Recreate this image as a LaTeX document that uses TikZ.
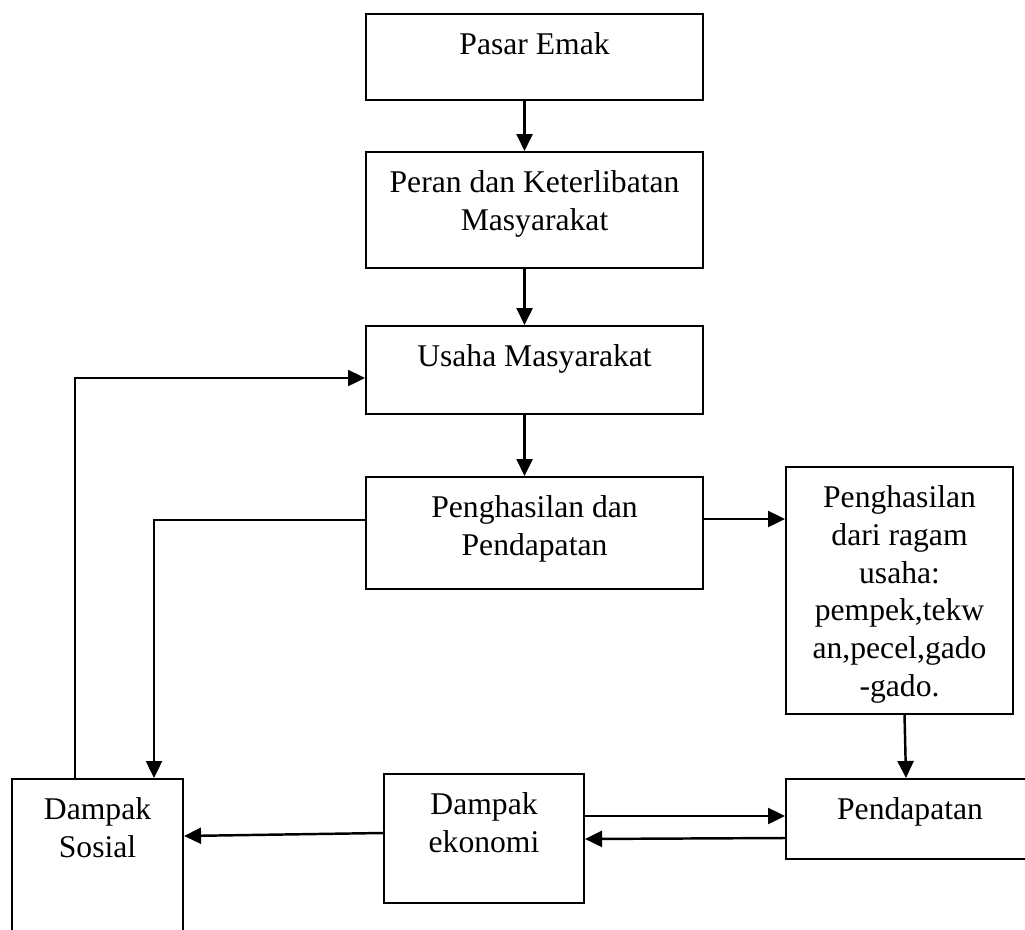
\documentclass[tikz,border=0pt]{standalone}
\usepackage{fontspec}
\setmainfont{Liberation Serif}
\usetikzlibrary{arrows.meta}
\tikzset{
    kotak/.style={
        draw,
        line width=1.2pt,
        align=center,
        inner sep=0pt,
        anchor=north west,
        text height=0.8cm,
        font=\fontsize{18}{21.5}\selectfont
    },
    duabaris/.style={
        text height=1.56cm
    },
    panah/.style={
        line width=1.4pt,
        ->
    }
}

\begin{document}
\begin{tikzpicture}[x=0.02cm,y=-0.02cm,>={Triangle[length=0.34cm,width=0.32cm]}]
\useasboundingbox (0,0) rectangle (1025,930);
\node[kotak,minimum width=6.74cm,text depth=0.92cm] (pasar) at (365,13) {Pasar Emak};
\node[kotak,duabaris,minimum width=6.74cm,text depth=0.76cm] (peran) at (365,151) {Peran dan Keterlibatan\\Masyarakat};
\node[kotak,minimum width=6.74cm,text depth=0.96cm] (usaha) at (365,325) {Usaha Masyarakat};
\node[kotak,duabaris,minimum width=6.74cm,text depth=0.68cm] (hasil) at (365,476) {Penghasilan dan\\Pendapatan};
\node[kotak,minimum width=4.54cm,text height=4.59cm,text depth=0.35cm] (ragam) at (785,466) {Penghasilan\\dari ragam\\usaha:\\pempek,tekw\\an,pecel,gado\\-gado.};
\node[kotak,minimum width=4.96cm,text depth=0.8cm] (pendapatan) at (785,778) {Pendapatan};
\node[kotak,duabaris,minimum width=4cm,text depth=1.02cm] (ekonomi) at (383,773) {Dampak\\ekonomi};
\node[kotak,duabaris,minimum width=3.42cm,text depth=2.08cm] (sosial) at (11,778) {Dampak\\Sosial};
\draw[panah] ([xshift=-0.2cm]pasar.south) -- ([xshift=-0.2cm]peran.north);
\draw[panah] ([xshift=-0.2cm]peran.south) -- ([xshift=-0.2cm]usaha.north);
\draw[panah] ([xshift=-0.2cm]usaha.south) -- ([xshift=-0.2cm]hasil.north);
\draw[panah] (hasil.east |- 0,519) -- (ragam.west |- 0,519);
\draw[panah] ([xshift=0.1cm]ragam.south) -- (pendapatan.north -| 906,0);
\draw[panah] (ekonomi.east |- 0,816) -- (pendapatan.west |- 0,816);
\draw[panah] (pendapatan.west |- 0,838) -- (ekonomi.east |- 0,839);
\draw[panah] (ekonomi.west |- 0,833) -- (sosial.east |- 0,836);
\draw[panah] (hasil.west |- 0,520) -| (sosial.north -| 154,0);
\draw[panah] (sosial.north -| 75,0) |- (usaha.west |- 0,378);
\end{tikzpicture}
\end{document}
